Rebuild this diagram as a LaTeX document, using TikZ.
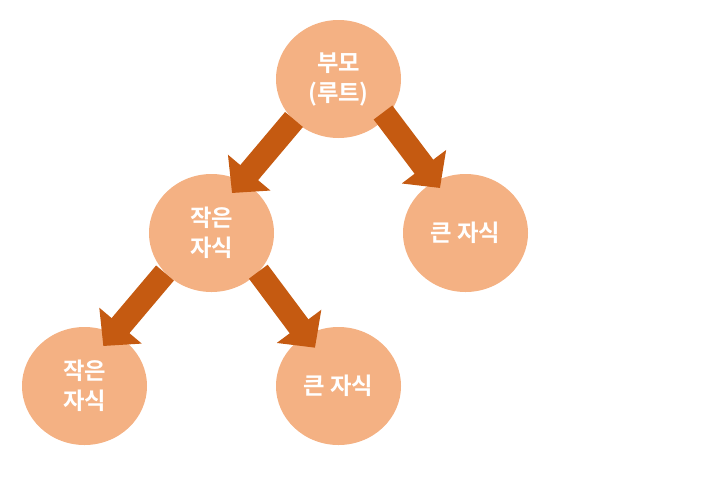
\documentclass[tikz,border=0pt]{standalone}
\usepackage{fontspec}
\newfontfamily\kr{Noto Sans CJK KR}[BoldFont={Noto Sans CJK KR Bold}]
\usetikzlibrary{shapes.geometric,arrows.meta,calc}
\definecolor{nodefill}{HTML}{F4B183}
\definecolor{arrowcol}{HTML}{C55A11}
\begin{document}
\begin{tikzpicture}[x=0.75pt,y=-0.75pt,
  treenode/.style={ellipse,fill=nodefill,draw=none,minimum width=93.75pt,minimum height=88.5pt,inner sep=0pt,
    align=center,text=white,font=\kr\bfseries\fontsize{17.5}{22.5}\selectfont},
  blockarrow/.style={draw=arrowcol,line width=17.5pt,line cap=butt,
    -{Triangle[width=40.5pt,length=20pt,fill=arrowcol]}}]
\useasboundingbox (0,0) rectangle (702,479);
\node[treenode] (root) at (338.5,79) {부모\\(루트)};
\node[treenode] (lc) at (211.5,233) {작은\\자식};
\node[treenode] (rc) at (465.5,233) {큰 자식};
\node[treenode] (bl) at (84.5,386) {작은\\자식};
\node[treenode] (br) at (338.5,386) {큰 자식};
\draw[blockarrow] ($(root)+(-44.5,40.5)$) -- ($(lc)+(20.5,-40)$);
\draw[blockarrow] ($(root)+(44.5,33.5)$) -- ($(rc)+(-25.5,-45)$);
\draw[blockarrow] ($(lc)+(-46.5,40)$) -- ($(bl)+(18.8,-40)$);
\draw[blockarrow] ($(lc)+(46.8,38.7)$) -- ($(br)+(-23.5,-38.3)$);
\end{tikzpicture}
\end{document}
